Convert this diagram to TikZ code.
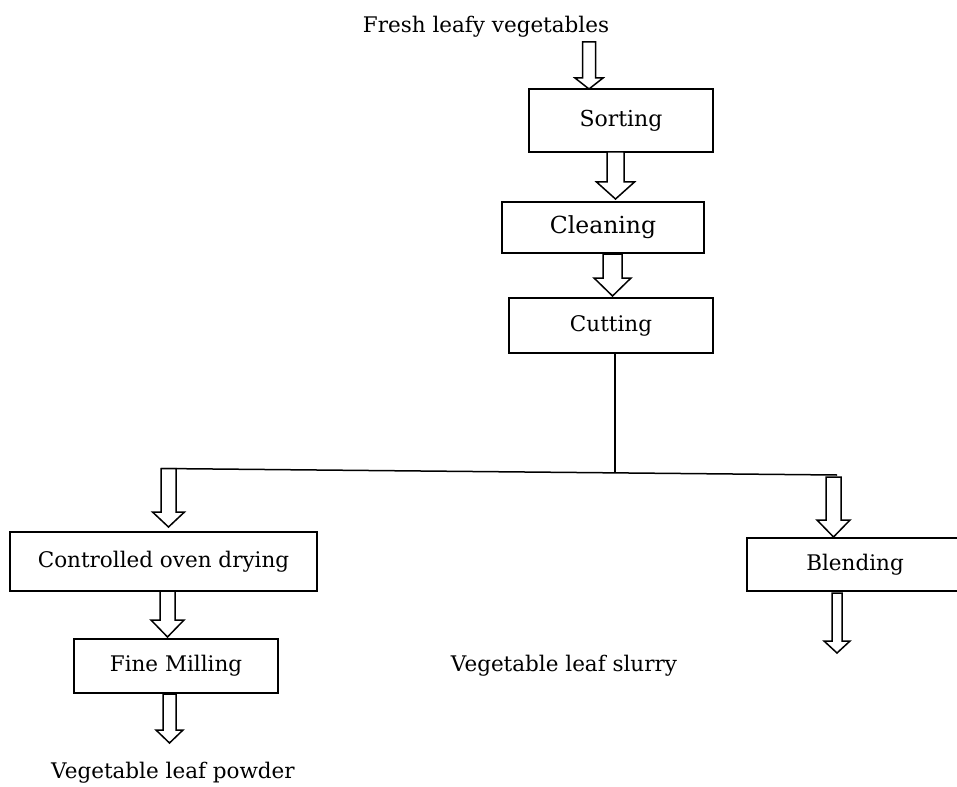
\documentclass[tikz,border=0pt]{standalone}
\usepackage{fontspec}
\setmainfont{DejaVu Serif}
\newcommand{\hollowarrow}[7]{%
  % #1 cx, #2 top, #3 headstart, #4 tip, #5 shaft half, #6 head half, #7 name
  \draw[blockarr] (#1-#5,#2) -- (#1+#5,#2) -- (#1+#5,#3) -- (#1+#6,#3) -- (#1,#4) -- (#1-#6,#3) -- (#1-#5,#3) -- cycle;}
\begin{document}
\begin{tikzpicture}[x=1pt,y=-1pt,
  stepbox/.style={draw,line width=1.5pt,rectangle,inner sep=0pt,font=\fontsize{21.5}{24}\selectfont},
  plain/.style={inner sep=0pt,font=\fontsize{21.5}{24}\selectfont},
  blockarr/.style={draw,line width=1.5pt,fill=white,line join=miter},
  link/.style={draw,line width=1.5pt}]
\useasboundingbox (0,0) rectangle (957,786);
\node[plain] (fresh) at (486,27) {Fresh leafy vegetables};
\node[stepbox,minimum width=184pt,minimum height=63pt,font=\fontsize{22}{24}\selectfont] (sort) at (621,120.5) {Sorting};
\node[stepbox,minimum width=202pt,minimum height=51pt,font=\fontsize{23.5}{26}\selectfont] (clean) at (603,227.5) {Cleaning};
\node[stepbox,minimum width=204pt,minimum height=55pt] (cut) at (611,325.5) {Cutting};
\node[stepbox,minimum width=307pt,minimum height=59pt] (oven) at (163.5,561.5) {Controlled oven drying};
\node[stepbox,minimum width=216pt,minimum height=53pt] (blend) at (855,564.5) {Blending};
\node[stepbox,minimum width=204pt,minimum height=54pt] (mill) at (176,666) {Fine Milling};
\node[plain] (slurry) at (564,666) {Vegetable leaf slurry};
\node[plain] (powder) at (173,773) {Vegetable leaf powder};
\coordinate (jn) at (615,473);
\coordinate (lft) at (161,468.5);
\coordinate (rgt) at (837,475);
\draw[link] (cut.south -| jn) -- (jn);
\draw[link] (lft) -- (rgt);
\hollowarrow{589}{42}{78}{89}{6.5}{14}{a1}
\hollowarrow{615.5}{152}{182}{199}{8.5}{19}{a2}
\hollowarrow{612.5}{254}{278}{296}{9.5}{18.5}{a3}
\hollowarrow{168.5}{468.5}{512}{527}{7.5}{16}{a4}
\hollowarrow{167.5}{591}{620}{637}{7.5}{16.5}{a5}
\hollowarrow{169.5}{694}{730}{743}{6.5}{13.5}{a6}
\hollowarrow{833.5}{477}{520}{537}{7.5}{16.5}{a7}
\hollowarrow{837}{593}{641}{653}{5}{13}{a8}
\end{tikzpicture}
\end{document}
